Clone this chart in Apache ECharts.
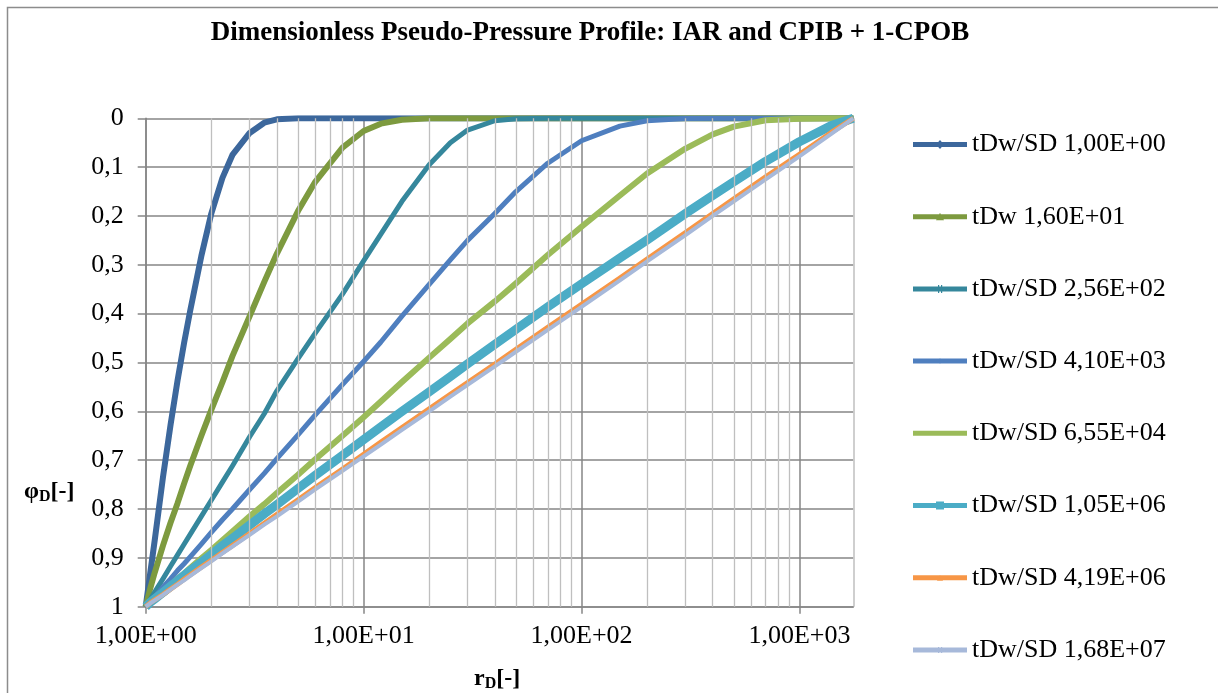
<!DOCTYPE html>
<html>
<head>
<meta charset="utf-8">
<script src="https://cdn.jsdelivr.net/npm/echarts@6/dist/echarts.min.js"></script>
<style>
  html, body { margin: 0; padding: 0; background: #fff; }
  #chart { width: 1218px; height: 693px; }
</style>
</head>
<body>
<div id="chart"></div>
<script>
// rD values (log axis) shared by all curves
const rD = [1, 1.05, 1.1, 1.2, 1.3, 1.4, 1.5, 1.6, 1.8, 2, 2.25, 2.5, 3, 3.5, 4, 5, 6, 8, 10, 12, 15,
  20, 25, 30, 40, 50, 70, 100, 150, 200, 300, 400, 500, 700, 1000, 1400, 1767];

// phiD, one array per time
const phi1 = [1, .93, .864, .735, .628, .537, .46, .394, .282, .195, .122, .075, .03, .009, .002, 0, 0, 0, 0, 0, 0,
  0, 0, 0, 0, 0, 0, 0, 0, 0, 0, 0, 0, 0, 0, 0, 0];
const phi2 = [1, .962, .93, .875, .828, .788, .748, .712, .65, .597, .54, .487, .405, .335, .277, .19, .13, .06, .026, .011, .003,
  0, 0, 0, 0, 0, 0, 0, 0, 0, 0, 0, 0, 0, 0, 0, 0];
const phi3 = [1, .985, .97, .943, .917, .894, .872, .852, .815, .782, .745, .712, .652, .605, .558, .492, .44, .36, .292, .237, .17,
  .095, .05, .024, .005, .001, 0, 0, 0, 0, 0, 0, 0, 0, 0, 0, 0];
const phi4 = [1, .99, .98, .96, .943, .926, .912, .898, .872, .848, .822, .8, .76, .727, .697, .648, .607, .545, .498, .458, .405,
  .34, .29, .25, .195, .15, .092, .046, .016, .005, .0005, 0, 0, 0, 0, 0, 0];
const phi5 = [1, .992, .984, .969, .956, .943, .932, .921, .901, .884, .864, .846, .815, .79, .767, .73, .698, .65, .612, .58, .54,
  .49, .452, .42, .375, .338, .28, .222, .158, .113, .062, .033, .017, .004, .001, 0, 0];
const phi6 = [1, .991, .984, .971, .958, .947, .936, .926, .909, .893, .875, .86, .833, .81, .791, .758, .731, .69, .658, .632, .6,
  .56, .529, .503, .463, .432, .386, .339, .286, .249, .195, .158, .13, .088, .048, .015, 0];
const phi7 = [1, .992, .986, .975, .964, .954, .944, .935, .919, .905, .889, .875, .85, .829, .811, .781, .756, .718, .688, .663, .633,
  .595, .565, .541, .503, .473, .428, .381, .327, .288, .234, .195, .165, .12, .074, .029, 0];
const phi8 = [1, .993, .987, .976, .965, .955, .946, .937, .921, .907, .891, .877, .853, .832, .815, .785, .76, .722, .692, .668, .638,
  .6, .57, .546, .508, .478, .433, .386, .332, .293, .239, .2, .17, .125, .078, .032, 0];

const names = ['tDw/SD 1,00E+00', 'tDw 1,60E+01', 'tDw/SD 2,56E+02', 'tDw/SD 4,10E+03',
  'tDw/SD 6,55E+04', 'tDw/SD 1,05E+06', 'tDw/SD 4,19E+06', 'tDw/SD 1,68E+07'];
const colors = ['#3C679C', '#7D9A3F', '#35879C', '#4F7FBF', '#9BBB59', '#4BACC6', '#F79646', '#A7B9DA'];
const widths = [6, 6, 5, 5, 6, 9, 5, 4];
const allPhi = [phi1, phi2, phi3, phi4, phi5, phi6, phi7, phi8];

// legend icons: thick bar with the series marker in the middle (box 54 x 12)
const bar = 'M0,3.5h54v5h-54z M0,0h0.01v0.01h-0.01z M0,12h0.01v-0.01h-0.01z';
const marks = [
  'M27,1.5L31,6L27,10.5L23,6Z',
  'M27,2L31,9.5H23Z',
  'M25,2h1.2v8h-1.2z M28,2h1.2v8h-1.2z',
  'M27,3L29,6L27,9L25,6Z',
  '',
  'M23,2h8v8h-8z',
  'M27,3L30,9H24Z',
  'M25,3h1.2v6h-1.2z M28,3h1.2v6h-1.2z'
];

// light vertical grid lines between decades
const minorR = [2, 3, 4, 5, 6, 7, 8, 9, 20, 30, 40, 50, 60, 70, 80, 90, 200, 300, 400, 500, 600, 700, 800, 900];

const serif = '"Times New Roman", "Liberation Serif", serif';
const chart = echarts.init(document.getElementById('chart'));

const series = [{
  name: 'minor',
  type: 'line',
  data: [[1, 1]],
  symbol: 'none',
  lineStyle: { opacity: 0 },
  silent: true,
  markLine: {
    silent: true,
    symbol: ['none', 'none'],
    label: { show: false },
    lineStyle: { color: '#BFBFBF', width: 1.3, type: 'solid' },
    data: minorR.map(v => ({ xAxis: v }))
  }
}];
allPhi.forEach((arr, i) => {
  series.push({
    name: names[i],
    type: 'line',
    data: rD.map((r, k) => [r, arr[k]]),
    showSymbol: false,
    symbol: 'none',
    color: colors[i],
    lineStyle: { width: widths[i], color: colors[i], join: 'round' }
  });
});

const option = {
  animation: false,
  backgroundColor: '#fff',
  title: {
    text: 'Dimensionless Pseudo-Pressure Profile: IAR and CPIB + 1-CPOB',
    left: 585,
    top: 15,
    textAlign: 'center',
    textStyle: { fontFamily: serif, fontWeight: 'bold', fontSize: 27, color: '#000' }
  },
  legend: {
    data: names.map((n, i) => ({ name: n, icon: 'path://' + bar + ' ' + marks[i] })),
    orient: 'vertical',
    left: 908,
    top: 126.5,
    itemWidth: 54,
    itemHeight: 12,
    itemGap: 46.2,
    textStyle: { fontFamily: serif, fontSize: 26, color: '#000', lineHeight: 26 }
  },
  grid: { left: 145.7, top: 118.3, right: 364.7, bottom: 86.3, containLabel: false },
  xAxis: {
    type: 'log',
    logBase: 10,
    min: 1,
    max: 1767,
    axisLine: { onZero: false, lineStyle: { color: '#868686', width: 1.5 } },
    axisTick: { show: true, length: 7, lineStyle: { color: '#868686', width: 1.5 } },
    axisLabel: {
      margin: 16,
      fontFamily: serif,
      fontSize: 26,
      color: '#000',
      showMaxLabel: false,
      formatter: v => {
        const e = Math.round(Math.log10(v));
        if (Math.abs(v - Math.pow(10, e)) > 1e-6 * v) return '';
        return '1,00E+' + String(e).padStart(2, '0');
      }
    },
    splitLine: {
      show: true,
      lineStyle: { color: ['#868686', '#868686', '#868686', '#868686', '#BFBFBF'], width: 1.5 }
    }
  },
  yAxis: {
    type: 'value',
    inverse: true,
    min: 0,
    max: 1,
    interval: 0.1,
    axisLine: { show: true, lineStyle: { color: '#868686', width: 1.5 } },
    axisTick: { show: true, length: 8, lineStyle: { color: '#868686', width: 1.5 } },
    axisLabel: {
      margin: 22,
      fontFamily: serif,
      fontSize: 26,
      color: '#000',
      formatter: v => String(+v.toFixed(1)).replace('.', ',')
    },
    splitLine: { show: true, lineStyle: { color: '#868686', width: 1.5 } }
  },
  graphic: [
    {
      type: 'rect',
      silent: true,
      shape: { x: 7.5, y: 7.5, width: 1400, height: 900 },
      style: { fill: 'none', stroke: '#8C8C8C', lineWidth: 1.5 }
    },
    {
      type: 'text',
      left: 24,
      top: 480,
      style: {
        text: '{a|φ}{b|D}{a|[-]}',
        rich: {
          a: { fontFamily: serif, fontWeight: 'bold', fontSize: 24, fill: '#000' },
          b: { fontFamily: serif, fontWeight: 'bold', fontSize: 16, fill: '#000', padding: [10, 0, 0, 0] }
        }
      }
    },
    {
      type: 'text',
      left: 474,
      top: 667,
      style: {
        text: '{a|r}{b|D}{a|[-]}',
        rich: {
          a: { fontFamily: serif, fontWeight: 'bold', fontSize: 24, fill: '#000' },
          b: { fontFamily: serif, fontWeight: 'bold', fontSize: 16, fill: '#000', padding: [10, 0, 0, 0] }
        }
      }
    }
  ],
  series: series
};

chart.setOption(option);
</script>
</body>
</html>
